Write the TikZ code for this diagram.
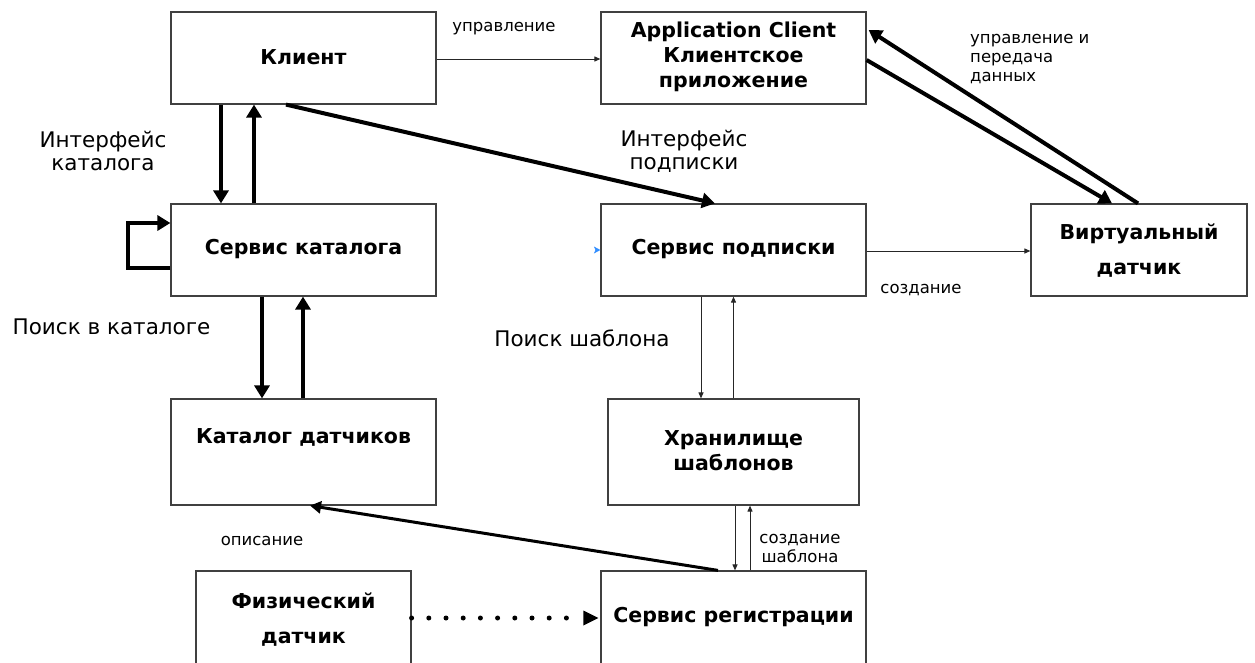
\documentclass[tikz,border=0pt]{standalone}
\usepackage{fontspec}
\setmainfont{DejaVu Sans}
\usetikzlibrary{arrows.meta}
\tikzset{
  box/.style={draw=black!75, line width=1.2pt, inner sep=0pt},
  btxt/.style={font=\bfseries\fontsize{20.5}{25}\selectfont, align=center, inner sep=0pt},
  btxtw/.style={font=\bfseries\fontsize{20.5}{35}\selectfont, align=center, inner sep=0pt},
  lbl/.style={font=\fontsize{21.5}{23}\selectfont, align=center, inner sep=0pt},
  slbl/.style={font=\fontsize{16.5}{19}\selectfont, align=center, inner sep=0pt},
  thick arr/.style={line width=4pt, -{Triangle[length=13pt,width=15pt]}},
  thin arr/.style={line width=1pt, black!85, -{Triangle[length=6pt,width=5pt]}},
  thick line/.style={line width=4pt},
}
\begin{document}
\begin{tikzpicture}[x=1pt,y=-1pt]
\useasboundingbox (0,0) rectangle (1255,662);
\clip (0,0) rectangle (1255,662);
% boxes
\node[box, minimum width=265pt, minimum height=92pt] (client) at (303.5,58) {};
\node[btxt] (clientT) at (303.5,57) {Клиент};
\node[box, minimum width=265pt, minimum height=92pt] (catsvc) at (303.5,250) {};
\node[btxt] (catsvcT) at (303.5,249) {Сервис каталога};
\node[box, minimum width=265pt, minimum height=106pt] (catalog) at (303.5,452) {};
\node[btxt] (catalogT) at (303.5,437) {Каталог датчиков};
\node[box, minimum width=215pt, minimum height=140pt] (phys) at (303.5,641) {};
\node[btxtw] (physT) at (303.5,619.5) {Физический\\датчик};
\node[box, minimum width=265pt, minimum height=92pt] (app) at (733.5,58) {};
\node[btxt] (appT) at (733.5,57) {Application Client\\Клиентское\\приложение};
\node[box, minimum width=265pt, minimum height=92pt] (subs) at (733.5,250) {};
\node[btxt] (subsT) at (733.5,249) {Сервис подписки};
\node[box, minimum width=251pt, minimum height=106pt] (store) at (733.5,452) {};
\node[btxt] (storeT) at (733.5,450.5) {Хранилище\\шаблонов};
\node[box, minimum width=265pt, minimum height=140pt] (reg) at (733.5,641) {};
\node[btxt] (regT) at (733.5,617) {Сервис регистрации};
\node[box, minimum width=216pt, minimum height=92pt] (virt) at (1139,250) {};
\node[btxtw] (virtT) at (1139,250.5) {Виртуальный\\датчик};
% labels
\node[slbl] (l1) at (504,29) {управление};
\node[lbl] (l2) at (103,151) {Интерфейс\\каталога};
\node[lbl] (l3) at (684,151) {Интерфейс\\подписки};
\node[slbl, align=left, anchor=west] (l4) at (970,59.5) {управление и\\передача\\данных};
\node[slbl] (l5) at (921,290) {создание};
\node[lbl] (l6) at (111.5,327) {Поиск в каталоге};
\node[lbl] (l7) at (582,338) {Поиск шаблона};
\node[slbl] (l8) at (800,548) {создание\\шаблона};
\node[slbl] (l9) at (262,541) {описание};
% connectors
\draw[thin arr] (client.east |- 0,59) -- (app.west |- 0,59);
\draw[thick arr] ([xshift=-82.5pt]client.south) -- ([xshift=-82.5pt]catsvc.north);
\draw[thick arr] ([xshift=-49.5pt]catsvc.north) -- ([xshift=-49.5pt]client.south);
\draw[thick arr] ([xshift=-17.5pt]client.south) -- ([xshift=-18.5pt]subs.north);
\draw[thick arr, line join=miter] ([yshift=-18pt]catsvc.west) -- ++(-42,0) -- ++(0,-45) -- ([yshift=27pt]catsvc.west);
\draw[thick arr] ([xshift=-41.5pt]catsvc.south) -- ([xshift=-41.5pt]catalog.north);
\draw[thick arr] ([xshift=-0.5pt]catalog.north) -- ([xshift=-0.5pt]catsvc.south);
\draw[thin arr] ([xshift=-32.5pt]subs.south) -- ([xshift=-32.5pt]store.north);
\draw[thin arr] (store.north) -- (subs.south);
\draw[thin arr] ([xshift=1.5pt]store.south) -- ([xshift=1.5pt]reg.north);
\draw[thin arr] ([xshift=16.5pt]reg.north) -- ([xshift=16.5pt]store.south);
\draw[thick line, -{Triangle[length=11pt,width=12pt]}, line width=3pt] ([xshift=-15.5pt]reg.north) -- ([xshift=6.5pt]catalog.south);
\draw[line width=5pt, line cap=round, dash pattern=on 0pt off 17.2pt, -{Triangle[length=15pt,width=15pt,line width=0pt]}, shorten >=2pt] (phys.east |- 0,618) -- (reg.west |- 0,618);
\draw[thin arr] (subs.east |- 0,251) -- (virt.west |- 0,251);
\draw[thick arr] ([yshift=-2pt]app.east) -- ([xshift=-27pt]virt.north);
\draw[thick arr] ([xshift=-1pt]virt.north) -- ([yshift=28pt,xshift=2pt]app.east);
\draw[draw=none, fill=blue!55!cyan!80] (subs.west) -- ++(-6.5,-3.5) -- ++(1.5,3.5) -- ++(-1.5,3.5) -- cycle;
\end{tikzpicture}
\end{document}
